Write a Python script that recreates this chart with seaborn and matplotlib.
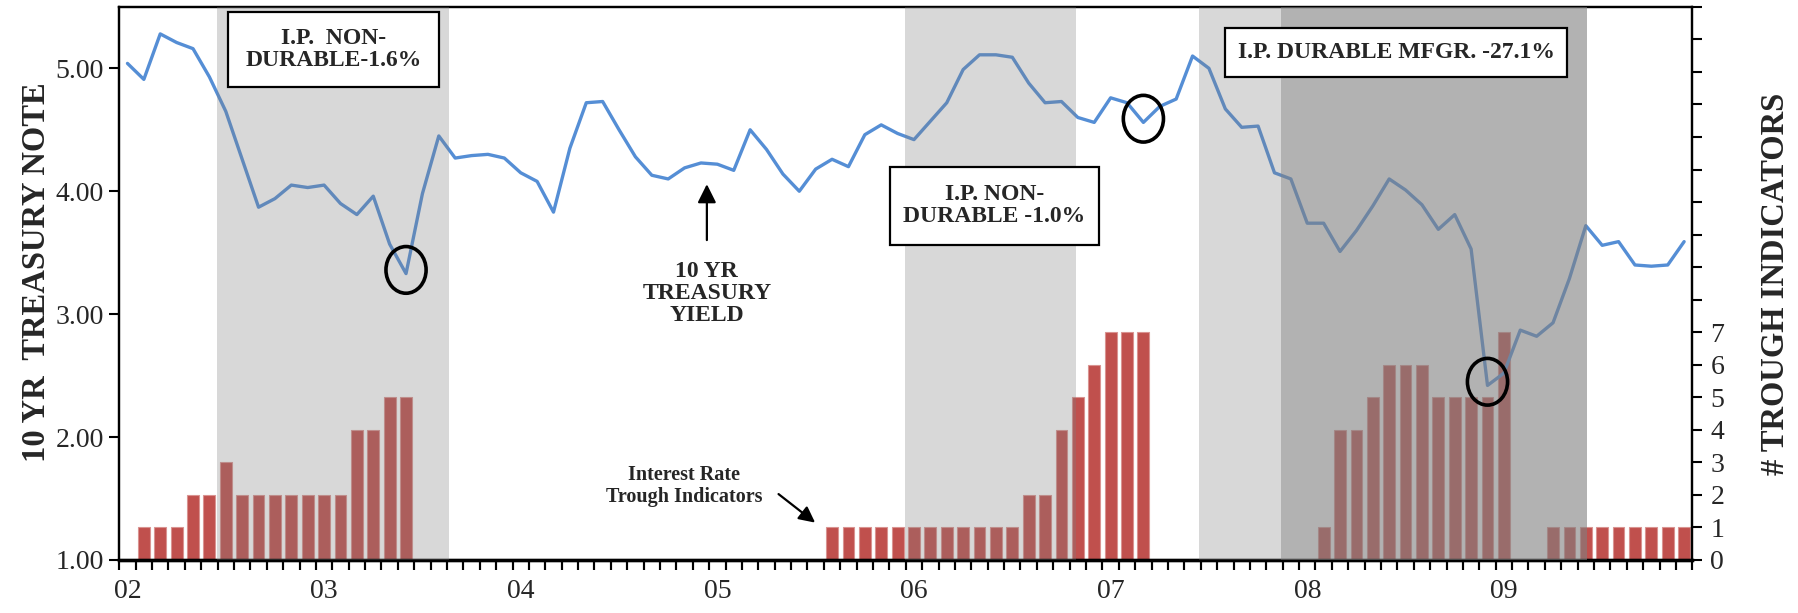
import numpy as np
import pandas as pd
import matplotlib
matplotlib.use("Agg")
import matplotlib.pyplot as plt
import seaborn as sns
from matplotlib.patches import Ellipse, Rectangle
from matplotlib.ticker import FixedLocator, FuncFormatter

# ---------------- data ----------------
year_labels = ["02", "03", "04", "05", "06", "07", "08", "09"]

yield_2002 = [5.04, 4.91, 5.28, 5.21, 5.16, 4.93, 4.65, 4.26, 3.87, 3.94, 4.05, 4.03]
yield_2003 = [4.05, 3.90, 3.81, 3.96, 3.57, 3.33, 3.98, 4.45, 4.27, 4.29, 4.30, 4.27]
yield_2004 = [4.15, 4.08, 3.83, 4.35, 4.72, 4.73, 4.50, 4.28, 4.13, 4.10, 4.19, 4.23]
yield_2005 = [4.22, 4.17, 4.50, 4.34, 4.14, 4.00, 4.18, 4.26, 4.20, 4.46, 4.54, 4.47]
yield_2006 = [4.42, 4.57, 4.72, 4.99, 5.11, 5.11, 5.09, 4.88, 4.72, 4.73, 4.60, 4.56]
yield_2007 = [4.76, 4.72, 4.56, 4.69, 4.75, 5.10, 5.00, 4.67, 4.52, 4.53, 4.15, 4.10]
yield_2008 = [3.74, 3.74, 3.51, 3.68, 3.88, 4.10, 4.01, 3.89, 3.69, 3.81, 3.53, 2.42]
yield_2009 = [2.52, 2.87, 2.82, 2.93, 3.29, 3.72, 3.56, 3.59, 3.40, 3.39, 3.40, 3.59]

trough_2002 = [0, 1, 1, 1, 2, 2, 3, 2, 2, 2, 2, 2]
trough_2003 = [2, 2, 4, 4, 5, 5, 0, 0, 0, 0, 0, 0]
trough_2004 = [0, 0, 0, 0, 0, 0, 0, 0, 0, 0, 0, 0]
trough_2005 = [0, 0, 0, 0, 0, 0, 0, 1, 1, 1, 1, 1]
trough_2006 = [1, 1, 1, 1, 1, 1, 1, 2, 2, 4, 5, 6]
trough_2007 = [7, 7, 7, 0, 0, 0, 0, 0, 0, 0, 0, 0]
trough_2008 = [0, 1, 4, 4, 5, 6, 6, 6, 5, 5, 5, 5]
trough_2009 = [7, 0, 0, 1, 1, 1, 1, 1, 1, 1, 1, 1]

treasury_yield = (yield_2002 + yield_2003 + yield_2004 + yield_2005 +
                  yield_2006 + yield_2007 + yield_2008 + yield_2009)
trough_count = (trough_2002 + trough_2003 + trough_2004 + trough_2005 +
                trough_2006 + trough_2007 + trough_2008 + trough_2009)

box_texts = ["I.P.  NON-\nDURABLE-1.6%", "I.P. NON-\nDURABLE -1.0%",
             "I.P. DURABLE MFGR. -27.1%"]
circled_months = [17, 62, 83]

# shaded periods (month index, category-centre coordinates)
light_periods = [(5.45, 19.6), (47.44, 57.9), (65.4, 70.4)]
dark_periods = [(70.4, 89.05)]

# ---------------- styling ----------------
sns.set_style("ticks")
plt.rcParams["font.family"] = ["Liberation Serif", "DejaVu Serif"]

bar_color = "#C0504D"
line_color = "#558ED5"
shade_color = "#808080"

n = len(treasury_yield)
df = pd.DataFrame({"month": np.arange(n), "troughs": trough_count,
                   "yield": treasury_yield})

rect = [0.0663, 0.0865, 0.8744, 0.9023]
fig = plt.figure(figsize=(17.99, 6.13), dpi=100)
ax = fig.add_axes(rect)

sns.barplot(data=df, x="month", y="troughs", ax=ax, color=bar_color,
            saturation=1, width=0.72, edgecolor="#D99391", linewidth=0.8)
ax.set_ylim(0, 17)

ax2 = ax.twinx()
sns.lineplot(data=df, x="month", y="yield", ax=ax2, color=line_color,
             linewidth=2.4, zorder=2)
ax2.set_ylim(1, 5.5)
ax.set_xlim(-0.5, n - 0.5)
ax2.set_xlim(-0.5, n - 0.5)

# swap y-axis sides: yields on the left, counts on the right
ax.yaxis.tick_right()
ax.yaxis.set_label_position("right")
ax2.yaxis.tick_left()
ax2.yaxis.set_label_position("left")

# shading drawn over data
for x0, x1 in light_periods:
    ax2.axvspan(x0, x1, color=shade_color, alpha=0.3, lw=0, zorder=3)
for x0, x1 in dark_periods:
    ax2.axvspan(x0, x1, color=shade_color, alpha=0.6, lw=0, zorder=3)

# left axis (yield)
ax2.yaxis.set_major_locator(FixedLocator([1, 2, 3, 4, 5]))
ax2.yaxis.set_major_formatter(FuncFormatter(lambda v, p: f"{v:.2f}"))
ax2.tick_params(axis="y", which="major", direction="out", length=7, width=1.5,
                color="black", labelsize=20, left=True, right=False,
                labelleft=True, labelright=False, pad=4)
ax2.set_ylabel("10 YR  TREASURY NOTE", fontsize=23.5, fontweight="bold")
ax2.yaxis.set_label_coords(-0.043, 0.52)

# right axis (counts)
ax.yaxis.set_major_locator(FixedLocator(list(range(0, 18))))
ax.yaxis.set_major_formatter(FuncFormatter(lambda v, p: f"{int(v)}" if v <= 7 else ""))
ax.tick_params(axis="y", which="major", direction="out", length=7, width=1.5,
               color="black", labelsize=20, right=True, left=False,
               labelright=True, labelleft=False, pad=6)
ax.set_ylabel("# TROUGH INDICATORS", fontsize=23.5, fontweight="bold",
              rotation=90)
ax.yaxis.set_label_coords(1.043, 0.5)

# x axis: year labels, monthly marks at category boundaries
ax.set_xticks(np.arange(0, n, 12))
ax.set_xticklabels(year_labels)
ax.xaxis.set_minor_locator(FixedLocator(np.arange(-0.5, n, 1)))
ax.tick_params(axis="x", which="major", length=0, labelsize=20, pad=14)
ax.tick_params(axis="x", which="minor", direction="out", length=7, width=1.5,
               color="black", bottom=True)
ax.vlines(np.arange(-0.5, n, 1), 0, -0.0175, transform=ax.get_xaxis_transform(),
          colors="black", linewidth=1.5, clip_on=False, zorder=10)
ax.set_xlabel("")
ax2.set_xlabel("")

for a in (ax, ax2):
    for s in a.spines.values():
        s.set_visible(True)
        s.set_color("black")
        s.set_linewidth(1.6)
    a.spines["bottom"].set_linewidth(2.4)

# annotation boxes (axes fraction)
box_specs = [(0.0691, 0.8552, 0.1341, 0.1361),
             (0.4898, 0.5696, 0.1333, 0.1415),
             (0.7029, 0.8738, 0.2177, 0.0875)]
for (bx, by, bw, bh), txt in zip(box_specs, box_texts):
    ax2.add_patch(Rectangle((bx, by), bw, bh, transform=ax2.transAxes,
                            facecolor="white", edgecolor="black", lw=1.6,
                            zorder=6))
    ax2.text(bx + bw / 2, by + bh / 2, txt, transform=ax2.transAxes,
             ha="center", va="center", fontsize=17, fontweight="bold",
             linespacing=1.05, zorder=7)

# circled troughs
for m in circled_months:
    ax2.add_patch(Ellipse((m, treasury_yield[m] + 0.03), width=2.45, height=0.38,
                          fill=False, edgecolor="black", lw=2.6, zorder=7))

# 10 yr treasury label + arrow
ax2.annotate("", xy=(35.36, 4.08), xytext=(35.36, 3.58),
             arrowprops=dict(arrowstyle="-|>", color="black", lw=1.6,
                             mutation_scale=28), zorder=7)
ax2.text(35.36, 3.17, "10 YR\nTREASURY\nYIELD", ha="center", va="center",
         fontsize=17, fontweight="bold", linespacing=1.05, zorder=7)

# trough indicator label + arrow
ax2.text(33.95, 1.60, "Interest Rate\nTrough Indicators", ha="center",
         va="center", fontsize=14.5, fontweight="bold", linespacing=1.1, zorder=7)
ax2.annotate("", xy=(42.1, 1.29), xytext=(39.6, 1.55),
             arrowprops=dict(arrowstyle="-|>", color="black", lw=1.6,
                             mutation_scale=24), zorder=7)

fig.savefig("out.png", dpi=100)
